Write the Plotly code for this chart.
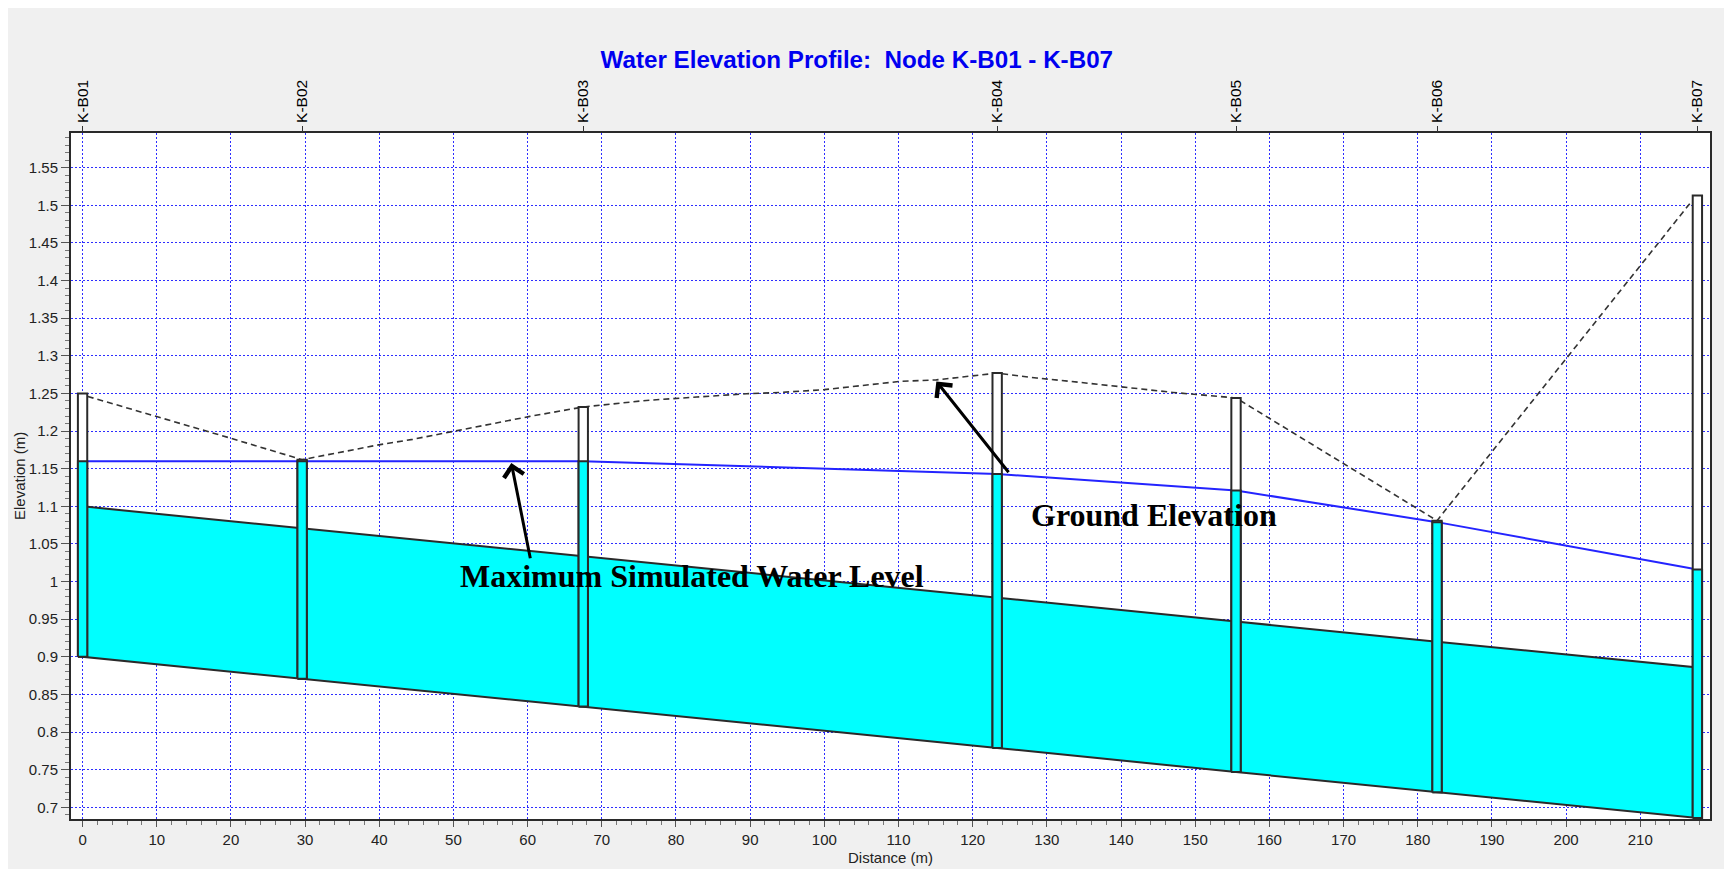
import plotly.graph_objects as go

# ---------------- data ----------------
node_names = ["K-B01", "K-B02", "K-B03", "K-B04", "K-B05", "K-B06", "K-B07"]
node_dist = [0.0, 29.6, 67.5, 123.3, 155.5, 182.6, 217.7]
node_ground = [1.250, 1.162, 1.232, 1.277, 1.244, 1.081, 1.513]
node_invert = [0.900, 0.871, 0.834, 0.779, 0.747, 0.720, 0.686]
node_water = [1.160, 1.160, 1.160, 1.143, 1.121, 1.079, 1.016]
pipe_diameter = 0.20

ground_dist = [0.7, 9.9, 19.8, 29.6, 35.6, 40.1, 44.5, 49.9, 55.3, 60.3, 67.5,
               76.0, 82.8, 89.5, 94.0, 100.0, 110.2, 115.1, 123.3, 128.6, 134.5,
               140.7, 147.0, 155.5, 182.6, 216.9]
ground_elev = [1.246, 1.220, 1.191, 1.162, 1.173, 1.182, 1.189, 1.1995, 1.2107,
               1.2195, 1.232, 1.2407, 1.2452, 1.2496, 1.2513, 1.255, 1.266, 1.268,
               1.277, 1.2705, 1.2647, 1.2585, 1.2513, 1.244, 1.081, 1.505]

x_tick_vals = [0, 10, 20, 30, 40, 50, 60, 70, 80, 90, 100, 110, 120, 130, 140,
               150, 160, 170, 180, 190, 200, 210]
y_tick_vals = [0.7, 0.75, 0.8, 0.85, 0.9, 0.95, 1.0, 1.05, 1.1, 1.15, 1.2, 1.25,
               1.3, 1.35, 1.4, 1.45, 1.5, 1.55]
y_tick_text = ["0.7", "0.75", "0.8", "0.85", "0.9", "0.95", "1", "1.05", "1.1",
               "1.15", "1.2", "1.25", "1.3", "1.35", "1.4", "1.45", "1.5", "1.55"]

# ---------------- style ----------------
W, H = 1724, 861
ML, MR, MT, MB = 63, 22, 125, 50
X_RANGE = [-1.56, 219.4]
Y_RANGE = [0.6846, 1.596]
BOX_HW = 0.63
GRID = "rgb(45,45,255)"
TICKFONT = dict(family="Liberation Sans, Arial, sans-serif", size=15, color="#222")
CYAN = "#00ffff"
EDGE = "#2a2a2a"


def boxes(xs, lows, highs, hw):
    px, py = [], []
    for x, a, b in zip(xs, lows, highs):
        px += [x - hw, x + hw, x + hw, x - hw, x - hw, None]
        py += [a, a, b, b, a, None]
    return px, py


fig = go.Figure()

# pipe (filled between invert and crown)
crown = [v + pipe_diameter for v in node_invert]
pipe_x = node_dist + node_dist[::-1] + [node_dist[0]]
pipe_y = crown + node_invert[::-1] + [crown[0]]
fig.add_trace(go.Scatter(x=pipe_x, y=pipe_y, mode="lines", fill="toself",
                         fillcolor=CYAN, line=dict(color=EDGE, width=2),
                         hoverinfo="skip"))

# hydraulic grade line (max water level)
fig.add_trace(go.Scatter(x=node_dist, y=node_water, mode="lines",
                         line=dict(color="#2424ff", width=2), hoverinfo="skip"))

# ground elevation
fig.add_trace(go.Scatter(x=ground_dist, y=ground_elev, mode="lines",
                         line=dict(color="#333333", width=1.6, dash="6px,4px"),
                         hoverinfo="skip"))

# manholes (drawn on overlay axis so they sit on top)
bx, by = boxes(node_dist, node_invert, node_ground, BOX_HW)
fig.add_trace(go.Scatter(x=bx, y=by, mode="lines", fill="toself", fillcolor="white",
                         line=dict(color=EDGE, width=2), xaxis="x2", hoverinfo="skip"))
wx, wy = boxes(node_dist, node_invert, node_water, BOX_HW)
fig.add_trace(go.Scatter(x=wx, y=wy, mode="lines", fill="toself", fillcolor=CYAN,
                         line=dict(color=EDGE, width=2), xaxis="x2", hoverinfo="skip"))

annotations = [
    dict(text="Elevation (m)", xref="paper", yref="paper", x=0, y=0.5,
         xanchor="center", yanchor="middle", xshift=-52, textangle=-90,
         showarrow=False, font=dict(family="Liberation Sans, Arial", size=15, color="#222")),
    dict(text="Distance (m)", xref="paper", yref="paper", x=0.5, y=0,
         xanchor="center", yanchor="middle", yshift=-38,
         showarrow=False, font=dict(family="Liberation Sans, Arial", size=15, color="#222")),
    dict(text="<b>Maximum Simulated Water Level</b>", xref="x", yref="y",
         x=82.1, y=1.0075, xanchor="center", yanchor="middle", showarrow=False,
         font=dict(family="Liberation Serif, Times New Roman, serif", size=32, color="black")),
    dict(text="<b>Ground Elevation</b>", xref="x", yref="y",
         x=144.4, y=1.0889, xanchor="center", yanchor="middle", showarrow=False,
         font=dict(family="Liberation Serif, Times New Roman, serif", size=32, color="black")),
    dict(text="", xref="x", yref="y", axref="x", ayref="y",
         x=57.8, y=1.1576, ax=60.4, ay=1.029, showarrow=True, arrowhead=4,
         arrowsize=1.3, arrowwidth=3, arrowcolor="black", standoff=0, startstandoff=0),
    dict(text="", xref="x", yref="y", axref="x", ayref="y",
         x=115.1, y=1.266, ax=125.0, ay=1.1433, showarrow=True, arrowhead=4,
         arrowsize=1.3, arrowwidth=3, arrowcolor="black", standoff=0, startstandoff=0),
]

fig.update_layout(
    width=W, height=H,
    margin=dict(l=ML, r=MR, t=MT, b=MB, pad=0),
    paper_bgcolor="#f0f0f0", plot_bgcolor="white",
    showlegend=False,
    title=dict(text="<b>Water Elevation Profile:\u00a0 Node K-B01 - K-B07</b>",
               xref="container", yref="container", x=848.8 / W, y=1 - 51.3 / H,
               xanchor="center", yanchor="middle",
               font=dict(family="Liberation Sans, Arial, sans-serif", size=24.2, color="#0000f0")),
    xaxis=dict(range=X_RANGE, tickmode="array", tickvals=x_tick_vals,
               ticks="outside", ticklen=6, tickwidth=1, tickcolor="#555",
               tickfont=TICKFONT, showgrid=True, gridcolor=GRID, gridwidth=1,
               griddash="2px,2px", zeroline=False, showline=True, linecolor=EDGE,
               linewidth=2, mirror=True,
               minor=dict(tick0=0, dtick=2, ticks="outside", ticklen=4,
                          tickcolor="#777", showgrid=False)),
    xaxis2=dict(range=X_RANGE, overlaying="x", side="top", tickmode="array",
                tickvals=node_dist, ticktext=node_names, tickangle=-90,
                ticks="outside", ticklen=6, tickcolor="#333",
                tickfont=dict(family="Liberation Sans, Arial, sans-serif", size=15.5, color="black"),
                showgrid=False, zeroline=False, showline=False),
    yaxis=dict(range=Y_RANGE, tickmode="array", tickvals=y_tick_vals,
               ticktext=y_tick_text, ticks="outside", ticklen=8, tickwidth=1,
               tickcolor="#555", tickfont=TICKFONT, showgrid=True, gridcolor=GRID,
               gridwidth=1, griddash="2px,2px", zeroline=False, showline=True,
               linecolor=EDGE, linewidth=2, mirror=True,
               minor=dict(tick0=0, dtick=0.01, ticks="outside", ticklen=4,
                          tickcolor="#777", showgrid=False)),
    annotations=annotations,
)

fig.write_html("out.html")
